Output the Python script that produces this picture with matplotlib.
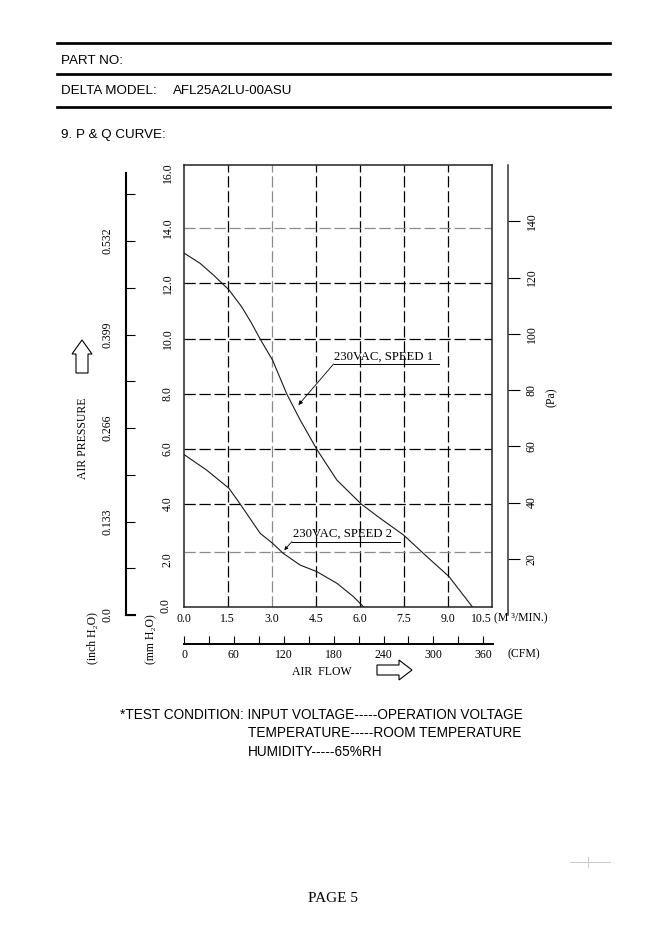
import matplotlib
matplotlib.use("Agg")
import matplotlib.pyplot as plt
from matplotlib.lines import Line2D
from matplotlib.patches import FancyArrow
from matplotlib.transforms import IdentityTransform, blended_transform_factory

W, H = 661, 926
SERIF = ["Liberation Serif", "DejaVu Serif"]
SANS = ["Liberation Sans", "DejaVu Sans"]
FS = 8.5  # chart lettering size

# P & Q curves: air flow (m3/min) vs static pressure (mm H2O)
SPEED1_FLOW = [0.0, 0.56, 1.02, 1.55, 1.98, 2.32, 2.61, 3.03, 3.52, 3.97,
               4.54, 5.22, 6.05, 6.70, 7.49, 8.29, 9.04, 9.85]
SPEED1_PRES = [13.11, 12.73, 12.30, 11.76, 11.15, 10.55, 9.98, 9.22, 7.98, 7.05,
               5.98, 4.87, 4.00, 3.48, 2.88, 2.09, 1.37, 0.25]
SPEED2_FLOW = [0.0, 0.79, 1.55, 1.93, 2.61, 3.03, 3.40, 3.97, 4.54, 5.22, 5.79, 6.15]
SPEED2_PRES = [5.81, 5.23, 4.57, 4.00, 2.94, 2.58, 2.21, 1.79, 1.55, 1.13, 0.64, 0.25]

SPEED1_LABEL = "230VAC, SPEED 1"
SPEED2_LABEL = "230VAC, SPEED 2"

FLOW_TICKS = [0.0, 1.5, 3.0, 4.5, 6.0, 7.5, 9.0, 10.5]
MM_TICKS = [0.0, 2.0, 4.0, 6.0, 8.0, 10.0, 12.0, 14.0, 16.0]
INCH_TICKS = [0.0, 0.133, 0.266, 0.399, 0.532]
INCH_LABELS = ["0.0", "0.133", "0.266", "0.399", "0.532"]
INCH_MINOR = [0.0665, 0.1995, 0.3325, 0.4655, 0.5985]
PA_TICKS = [20, 40, 60, 80, 100, 120, 140]
CFM_TICKS = [0, 60, 120, 180, 240, 300, 360]
CFM_MINOR = [30, 90, 150, 210, 270, 330]

GRID_X = [1.5, 3.0, 4.5, 6.0, 7.5, 9.0]
GRID_Y = [2.27, 4.0, 6.0, 8.0, 10.0, 12.0, 14.0]
FAINT_X = [3.0]
FAINT_Y = [2.27, 14.0]

TEST_LINES = ["*TEST CONDITION: INPUT VOLTAGE-----OPERATION VOLTAGE",
              "TEMPERATURE-----ROOM TEMPERATURE",
              "HUMIDITY-----65%RH"]


def rect(x0, y0, x1, y1):
    return [x0 / W, 1 - y1 / H, (x1 - x0) / W, (y1 - y0) / H]


def fx(px):
    return px / W


def fy(py):
    return 1 - py / H


fig = plt.figure(figsize=(W / 100, H / 100), dpi=100)
fig.patch.set_facecolor("white")

# header block
for y in [43.3, 74.0, 106.7]:
    fig.add_artist(Line2D([fx(56.7), fx(610)], [fy(y), fy(y)], color="black", lw=1.95))
fig.text(fx(60.7), fy(63.5), "PART NO:", family=SANS, fontsize=9.6, va="baseline")
fig.text(fx(60.7), fy(94.2), "DELTA MODEL:", family=SANS, fontsize=9.6, va="baseline")
fig.text(fx(172.7), fy(94.2), "AFL25A2LU-00ASU", family=SANS, fontsize=9.6, va="baseline")
fig.text(fx(60.7), fy(138.2), "9. P & Q CURVE:", family=SANS, fontsize=9.6, va="baseline")

# main chart, mm H2O vs m3/min
ax = fig.add_axes(rect(183.5, 165, 492, 607))
ax.set_xlim(0, 10.5)
ax.set_ylim(0.27, 16.29)
for s in ax.spines.values():
    s.set_linewidth(1.1)
    s.set_color("#222222")

for x in GRID_X:
    c = "#8a8a8a" if x in FAINT_X else "black"
    ax.axvline(x, color=c, lw=0.9, dashes=(9, 3))
for y in GRID_Y:
    c = "#8a8a8a" if y in FAINT_Y else "black"
    ax.axhline(y, color=c, lw=0.9, dashes=(9, 3))

ax.plot(SPEED1_FLOW, SPEED1_PRES, color="#1a1a1a", lw=0.8)
ax.plot(SPEED2_FLOW, SPEED2_PRES, color="#1a1a1a", lw=0.8)

# curve labels with leader arrows
ax.plot([5.11, 8.69], [9.08, 9.08], color="black", lw=0.7)
ax.annotate("", xy=(3.91, 7.59), xytext=(5.11, 9.08),
            arrowprops=dict(arrowstyle="-|>", lw=0.6, color="black",
                            mutation_scale=6, shrinkA=0, shrinkB=0))
ax.text(5.13, 9.13, SPEED1_LABEL, family=SERIF, fontsize=9.2, ha="left", va="bottom")

ax.plot([3.69, 7.38], [2.64, 2.64], color="black", lw=0.7)
ax.annotate("", xy=(3.43, 2.33), xytext=(3.69, 2.64),
            arrowprops=dict(arrowstyle="-|>", lw=0.6, color="black",
                            mutation_scale=5, shrinkA=0, shrinkB=0))
ax.text(3.71, 2.69, SPEED2_LABEL, family=SERIF, fontsize=9.2, ha="left", va="bottom")

ax.set_xticks(FLOW_TICKS, [f"{v:.1f}" for v in FLOW_TICKS])
ax.tick_params(axis="x", length=0, pad=4.2, labelsize=FS)
ax.get_xticklabels()[-1].set_ha("right")
ax.set_yticks(MM_TICKS[1:], [f"{v:.1f}" for v in MM_TICKS[1:]])
ax.tick_params(axis="y", length=0, pad=7.2, labelsize=FS, labelrotation=90)
for lab in ax.get_xticklabels() + ax.get_yticklabels():
    lab.set_family(SERIF)
plt.setp(ax.get_yticklabels(), va="center")
blend = blended_transform_factory(ax.transAxes, ax.transData)
ax.text(-0.039, 0.33, f"{MM_TICKS[0]:.1f}", transform=blend, rotation=90,
        ha="right", va="center", family=SERIF, fontsize=FS)
ax.text(1.006, -0.0125, "(M ³/MIN.)", transform=ax.transAxes, ha="left", va="top",
        family=SERIF, fontsize=FS)

# inch H2O scale on the left
axi = fig.add_axes(rect(126, 172.7, 135, 615))
axi.set_ylim(0, 0.6292)
axi.set_xlim(0, 1)
for side in ["top", "right"]:
    axi.spines[side].set_visible(False)
axi.spines["left"].set_linewidth(1.5)
axi.spines["bottom"].set_linewidth(1.5)
axi.set_xticks([])
axi.set_yticks(INCH_TICKS, INCH_LABELS)
axi.set_yticks(INCH_MINOR, minor=True)
axi.tick_params(axis="y", which="both", direction="in", length=6.5, width=0.8,
                pad=9.0, labelsize=FS, labelrotation=90)
for lab in axi.get_yticklabels():
    lab.set_family(SERIF)
    lab.set_va("center")
axi.patch.set_alpha(0)

# Pa scale on the right
axp = fig.add_axes(rect(508.3, 165, 520.3, 615))
axp.set_ylim(0, 160)
axp.set_xlim(0, 1)
for side in ["top", "right", "bottom"]:
    axp.spines[side].set_visible(False)
axp.spines["left"].set_linewidth(1.1)
axp.spines["left"].set_color("#333333")
axp.set_xticks([])
axp.set_yticks(PA_TICKS, [str(v) for v in PA_TICKS])
axp.tick_params(axis="y", left=True, right=False, labelleft=False, labelright=True,
                direction="in", length=8.6, width=0.8, pad=4.0, labelsize=FS,
                labelrotation=90)
for lab in axp.get_yticklabels():
    lab.set_family(SERIF)
    lab.set_va("center")
axp.patch.set_alpha(0)

# CFM scale below
axc = fig.add_axes(rect(184, 636, 493, 644.3))
axc.set_xlim(0, 371.7)
axc.set_ylim(0, 1)
for side in ["top", "right", "left"]:
    axc.spines[side].set_visible(False)
axc.spines["bottom"].set_linewidth(1.4)
axc.set_yticks([])
axc.set_xticks(CFM_TICKS, [str(v) for v in CFM_TICKS])
axc.set_xticks(CFM_MINOR, minor=True)
axc.tick_params(axis="x", which="both", direction="in", length=5.8, width=0.8,
                pad=3.6, labelsize=FS)
for lab in axc.get_xticklabels():
    lab.set_family(SERIF)
axc.patch.set_alpha(0)

# axis titles and units
fig.text(fx(83), fy(438), "AIR PRESSURE", rotation=90, ha="center", va="center",
         family=SERIF, fontsize=FS)
fig.text(fx(92.5), fy(638), "(inch H₂O)", rotation=90, ha="center", va="center",
         family=SERIF, fontsize=FS)
fig.text(fx(151), fy(639), "(mm H₂O)", rotation=90, ha="center", va="center",
         family=SERIF, fontsize=FS)
fig.text(fx(551.7), fy(397), "(Pa)", rotation=90, ha="center", va="center",
         family=SERIF, fontsize=FS)
fig.text(fx(507), fy(654), "(CFM)", ha="left", va="center", family=SERIF, fontsize=FS)
fig.text(fx(292), fy(672), "AIR  FLOW", ha="left", va="center", family=SERIF, fontsize=FS)

# outline block arrows
fig.add_artist(FancyArrow(82, H - 373, 0, 33, width=12, head_width=20, head_length=14,
                          length_includes_head=True, facecolor="white",
                          edgecolor="black", lw=0.8, transform=IdentityTransform()))
fig.add_artist(FancyArrow(377, H - 670, 35, 0, width=10, head_width=20, head_length=13,
                          length_includes_head=True, facecolor="white",
                          edgecolor="black", lw=0.8, transform=IdentityTransform()))

# test condition note
fig.text(fx(120), fy(718.6), TEST_LINES[0], family=SANS, fontsize=9.85, va="baseline")
fig.text(fx(248), fy(737.3), TEST_LINES[1], family=SANS, fontsize=9.85, va="baseline")
fig.text(fx(248), fy(756.3), TEST_LINES[2], family=SANS, fontsize=9.85, va="baseline")

# page mark
fig.add_artist(Line2D([fx(570), fx(610)], [fy(861.7), fy(861.7)], color="#c8c8c8", lw=0.7))
fig.add_artist(Line2D([fx(588.3), fx(588.3)], [fy(856.7), fy(866.7)], color="#c8c8c8", lw=0.7))
fig.text(fx(333), fy(902.5), "PAGE 5", family=SERIF, fontsize=11, ha="center", va="baseline")

fig.savefig("out.png", dpi=100)
